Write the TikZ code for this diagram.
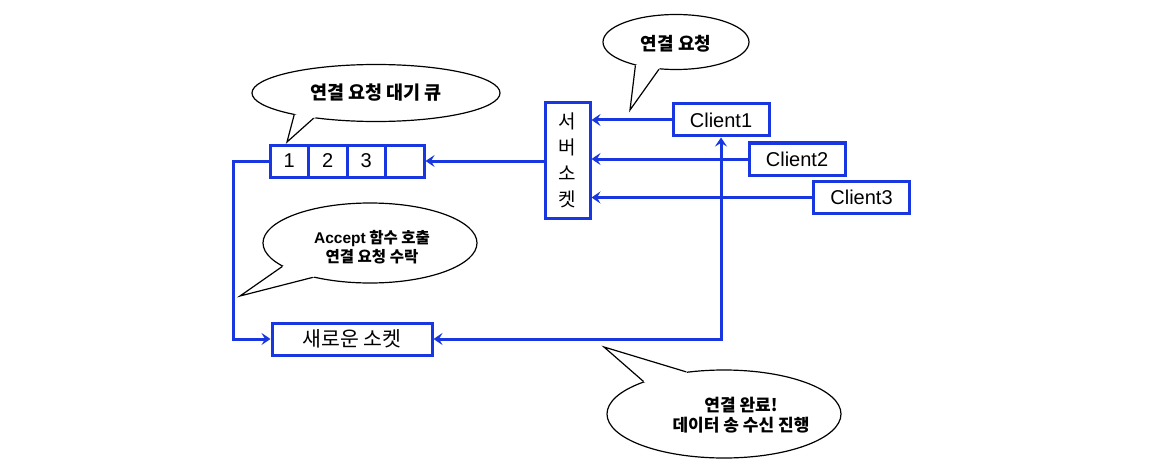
\documentclass[tikz,border=0pt]{standalone}
\usepackage{fontspec}
\setmainfont{Liberation Sans}
\newfontfamily\kr{Noto Sans CJK KR}
\usetikzlibrary{arrows.meta,calc,shapes.geometric}
\definecolor{lblue}{RGB}{25,55,225}
\begin{document}
\begin{tikzpicture}[x=1pt,y=-1pt,
  >={Stealth[length=9pt,width=12pt,inset=3.5pt]},
  box/.style={draw=lblue, line width=3pt, fill=white, inner sep=0pt},
  cell/.style={box, minimum width=38.5pt, minimum height=32pt, font=\fontsize{20}{24}\selectfont},
  client/.style={box, minimum width=96pt, minimum height=32pt, font=\fontsize{20}{24}\selectfont},
  conn/.style={draw=lblue, line width=3pt, ->},
  bubble/.style={ellipse, draw=black, line width=1.2pt, fill=white, inner sep=0pt},
  btext/.style={align=center, font=\kr\bfseries, inner sep=0pt},
  tail/.style={draw=black, line width=1.2pt, line join=miter},
]
\useasboundingbox (0,0) rectangle (1172,468);

% queue
\node[cell] (q1) at (289.3,161) {1};
\node[cell] (q2) at (327.8,161) {2};
\node[cell] (q3) at (366.3,161) {3};
\node[cell] (q4) at (404.8,161) {};

% server socket
\node[box, minimum width=45pt, minimum height=115pt, align=center,
      font=\kr\fontsize{19}{26}\selectfont] (srv) at (567.5,160.5) {서\\버\\소\\켓};

% clients
\node[client] (c1) at (721,120) {Client1};
\node[client] (c2) at (797,159) {Client2};
\node[client] (c3) at (861.5,197.5) {Client3};

% new socket
\node[box, minimum width=160pt, minimum height=32pt,
      font=\kr\fontsize{20.5}{24}\selectfont] (ns) at (352,339) {새로운 소켓};

% connectors
\draw[conn] (c1.west) -- (c1.west -| srv.east);
\draw[conn] (c2.west) -- (c2.west -| srv.east);
\draw[conn] (c3.west) -- (c3.west -| srv.east);
\draw[conn] (srv.west |- q4.east) -- (q4.east);
\coordinate (qleft) at (233,161);
\draw[conn] (q1.west) -- (qleft) |- (ns.west);
\draw[conn, <->] (ns.east) -| (c1.south);

% bubble: queue
\node[bubble, minimum width=248pt, minimum height=57pt] (qb) at (376,93) {};
\coordinate (qbt) at (287,142);
\fill[white] (qb.195.6) -- ($(qb.center)!0.8!(qb.195.6)$) -- ($(qb.center)!0.8!(qb.202.3)$) -- (qb.202.3) -- (qbt) -- cycle;
\draw[tail] (qb.195.6) -- (qbt) -- (qb.202.3);
\node[btext, font=\kr\bfseries\fontsize{18.5}{20}\selectfont] (qbtext) at (376,93) {연결 요청 대기 큐};

% bubble: connection request
\node[bubble, minimum width=146pt, minimum height=55pt] (cb) at (676,42) {};
\coordinate (cbt) at (630,110);
\fill[white] (cb.210.5) -- ($(cb.center)!0.8!(cb.210.5)$) -- ($(cb.center)!0.8!(cb.238.4)$) -- (cb.238.4) -- (cbt) -- cycle;
\draw[tail] (cb.210.5) -- (cbt) -- (cb.238.4);
\node[btext, font=\kr\bfseries\fontsize{18}{20}\selectfont] (cbtext) at (676,44) {연결 요청};

% bubble: accept
\node[bubble, minimum width=214pt, minimum height=80pt] (ab) at (370,243) {};
\coordinate (abt) at (240,296);
\fill[white] (ab.195.4) -- ($(ab.center)!0.8!(ab.195.4)$) -- ($(ab.center)!0.8!(ab.211.6)$) -- (ab.211.6) -- (abt) -- cycle;
\draw[tail] (ab.195.4) -- (abt) -- (ab.211.6);
\node[btext, font=\kr\bfseries\fontsize{15.5}{19}\selectfont] (abtext) at (372,247) {{\rmfamily\bfseries Accept} 함수 호출\\연결 요청 수락};

% bubble: done
\node[bubble, minimum width=234pt, minimum height=88pt] (db) at (724,414) {};
\coordinate (dbt) at (604,347);
\fill[white] (db.158) -- ($(db.center)!0.8!(db.158)$) -- ($(db.center)!0.8!(db.132.5)$) -- (db.132.5) -- (dbt) -- cycle;
\draw[tail] (db.158) -- (dbt) -- (db.132.5);
\node[btext, font=\kr\bfseries\fontsize{17}{20}\selectfont] (dbtext) at (741,415) {연결 완료!\\데이터 송 수신 진행};
\end{tikzpicture}
\end{document}
